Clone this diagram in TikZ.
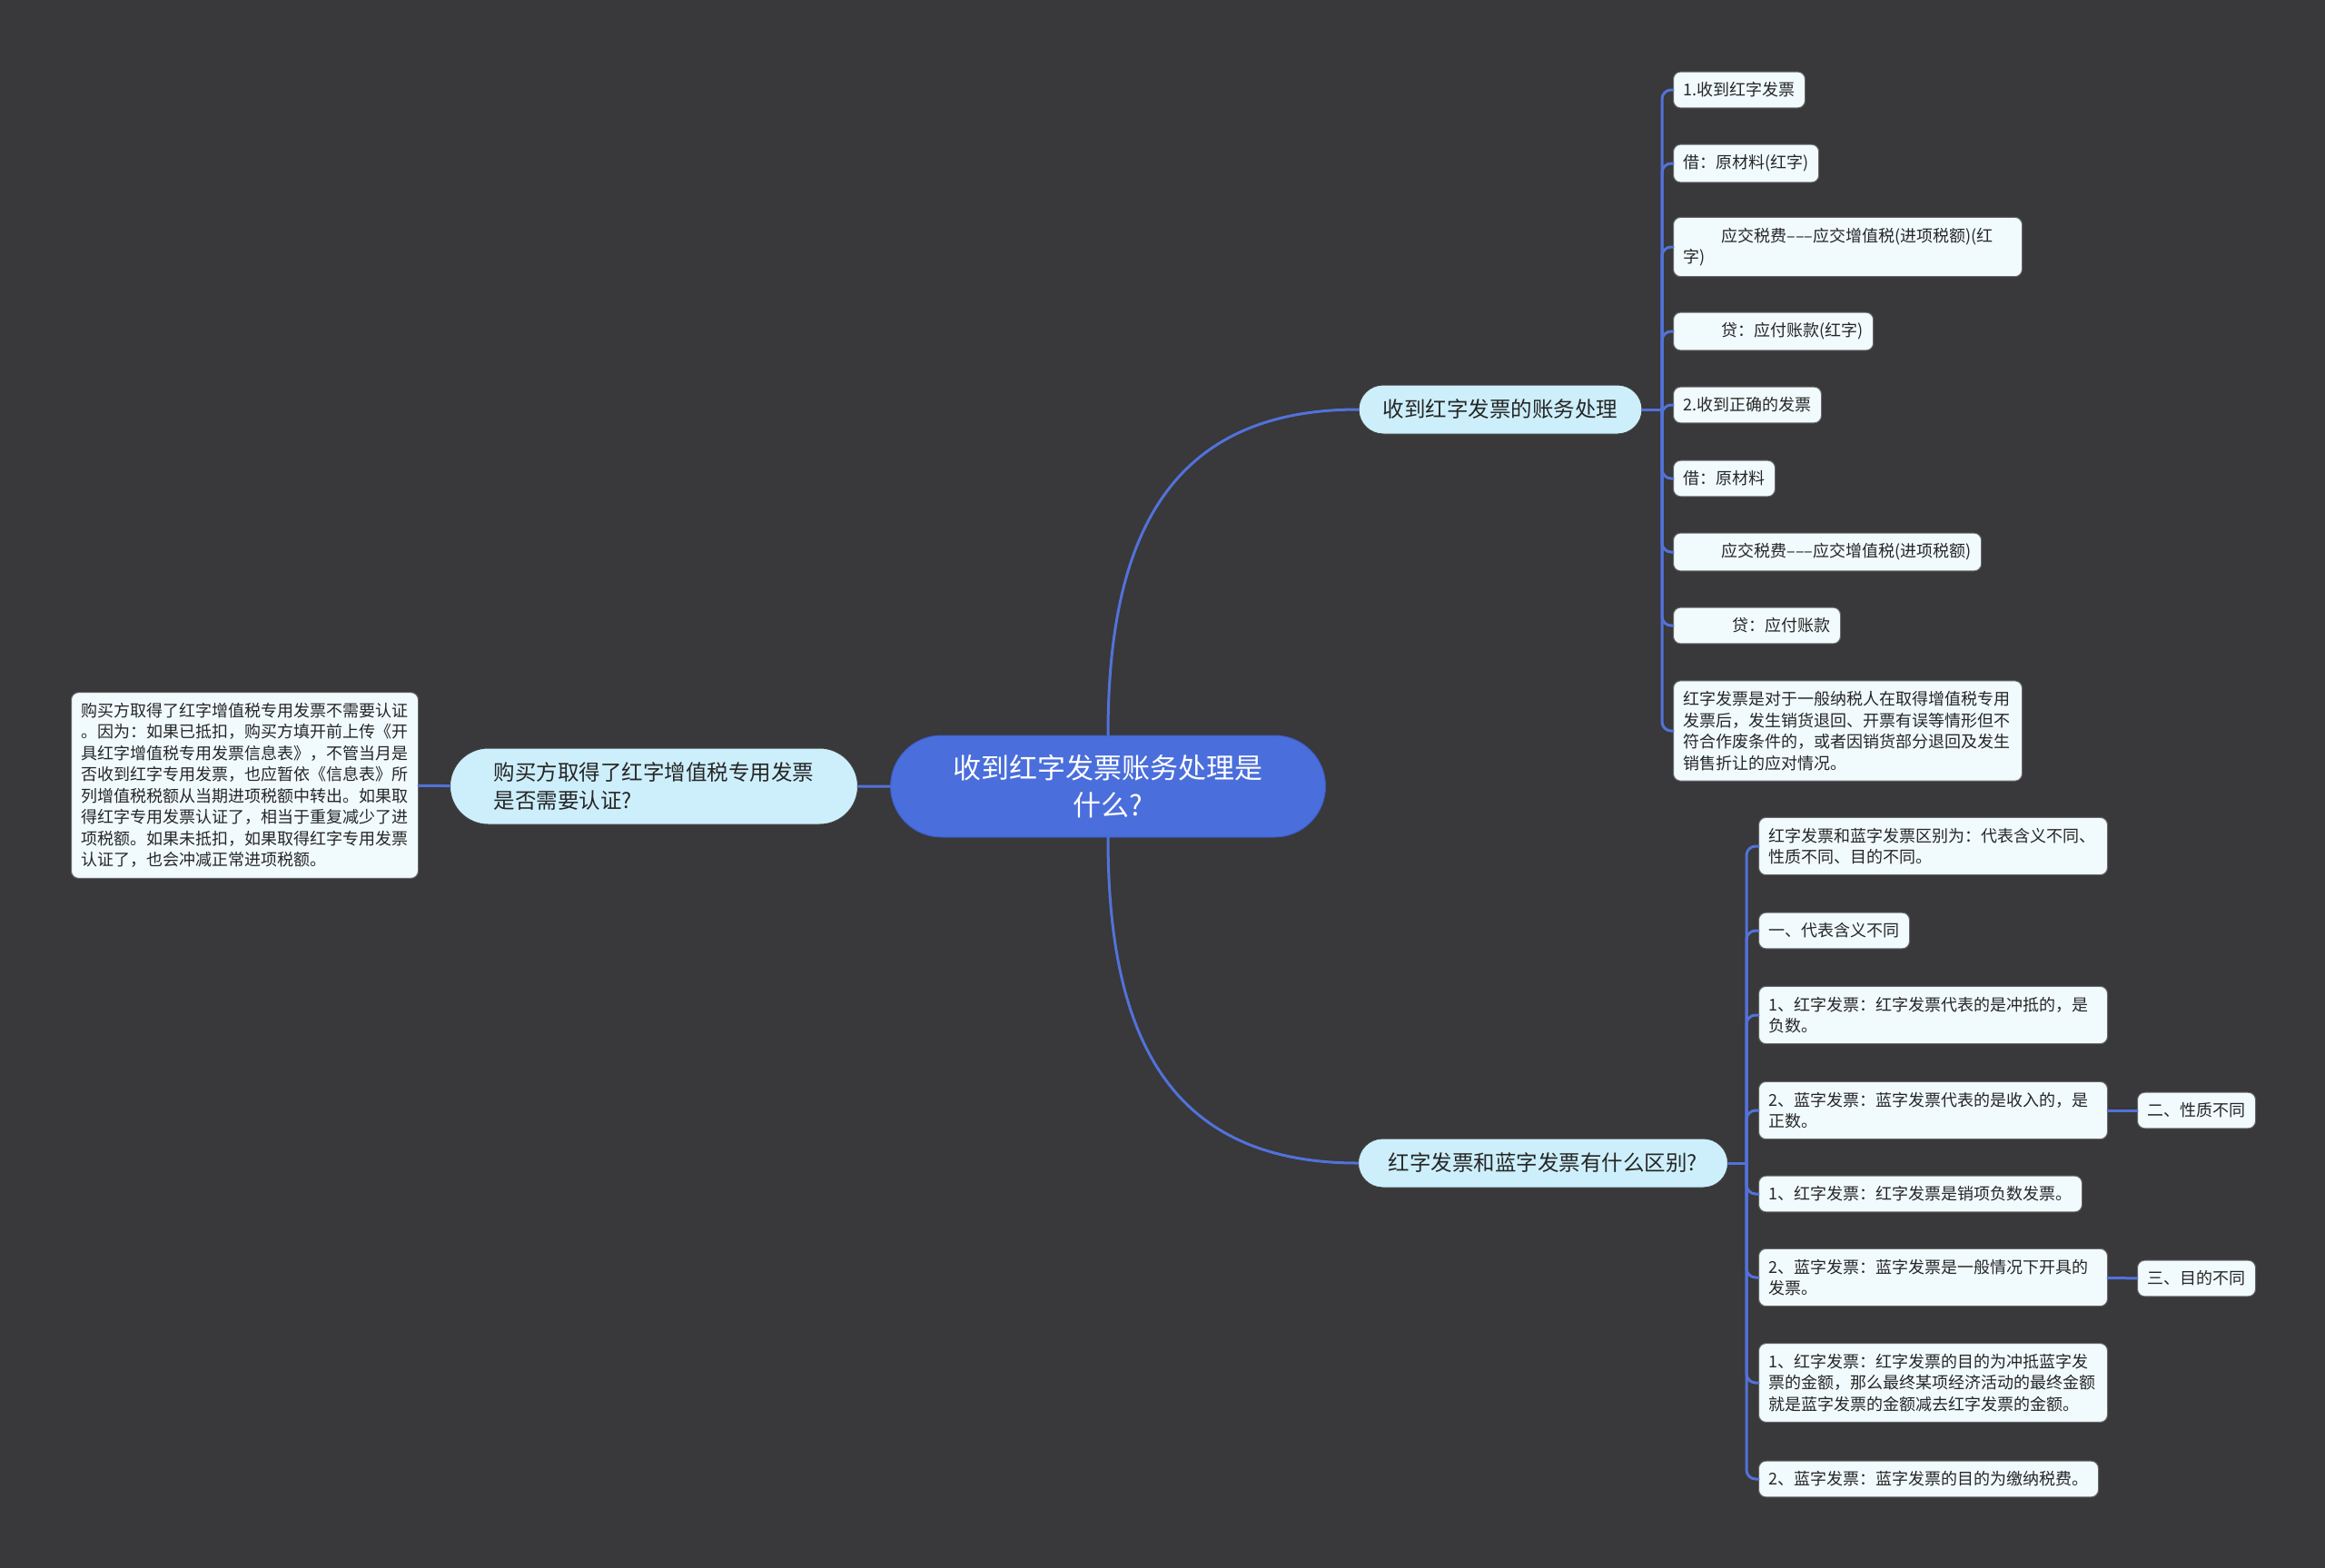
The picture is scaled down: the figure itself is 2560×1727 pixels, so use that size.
\documentclass[tikz,border=0pt]{standalone}
\usepackage{fontspec}
\setmainfont{Noto Sans CJK SC}
\usetikzlibrary{shapes.misc}
\definecolor{bgdark}{HTML}{39383A}
\definecolor{rootblue}{HTML}{4A6EDB}
\definecolor{rootedge}{HTML}{3B5BC0}
\definecolor{topicblue}{HTML}{CDEFFC}
\definecolor{leafwhite}{HTML}{F1FBFE}
\definecolor{linkblue}{HTML}{5272DA}
\begin{document}
\begin{tikzpicture}[x=1pt, y=-1pt, line join=round, line cap=round,
	root/.style={rounded rectangle, fill=rootblue, draw=rootedge, line width=1pt, text=white, font=\fontsize{31}{41}\selectfont, align=center, minimum width=479pt, minimum height=112pt, inner sep=0pt},
	topic/.style={rounded rectangle, fill=topicblue, draw=black!75, line width=1pt, text=black!85, font=\fontsize{23.5}{31}\selectfont, minimum height=54pt, inner sep=0pt},
	leaf/.style={rounded corners=8pt, fill=leafwhite, draw=black!60, line width=1pt, text=black!85, font=\fontsize{18}{23.5}\selectfont, align=left, inner xsep=11pt, inner ysep=11.5pt, anchor=west},
	wideleaf/.style={leaf, text width=362pt},
	link/.style={draw=linkblue, line width=3pt}]
		\fill[bgdark] (0,0) rectangle (2560,1727);
		\useasboundingbox (0,0) rectangle (2560,1727);
		\node[root] (root) at (1220,866) {收到红字发票账务处理是\\什么?};
		\node[topic, minimum width=449pt, minimum height=84pt, align=left] (ask) at (720,866) {购买方取得了红字增值税专用发票\\是否需要认证?};
		\node[leaf] (askleaf) at (78,865) {购买方取得了红字增值税专用发票不需要认证\\。因为：如果已抵扣，购买方填开前上传《开\\具红字增值税专用发票信息表》，不管当月是\\否收到红字专用发票，也应暂依《信息表》所\\列增值税税额从当期进项税额中转出。如果取\\得红字专用发票认证了，相当于重复减少了进\\项税额。如果未抵扣，如果取得红字专用发票\\认证了，也会冲减正常进项税额。};
		\draw[link] (root) -- (ask);
		\draw[link] (ask) -- (askleaf);
		\node[topic, minimum width=312pt] (ub) at (1652,451) {收到红字发票的账务处理};
		\node[topic, minimum width=407pt] (lb) at (1699,1281) {红字发票和蓝字发票有什么区别?};
		\draw[link] (root.north) to[out=90, in=180, looseness=1.2] (ub.west);
		\draw[link] (root.south) to[out=-90, in=180, looseness=1.2] (lb.west);
		\coordinate (ubj) at (1830,451);
		\coordinate (lbj) at (1923,1281);
		\draw[link] (ub.east) -- (ubj);
		\draw[link] (lb.east) -- (lbj);
		\foreach \y/\kind/\txt [count=\i] in {99/leaf/{1.收到红字发票}, 180/leaf/{借：原材料(红字)},
			272/wideleaf/{\hspace*{42pt}应交税费–––应交增值税(进项税额)(红\\字)}, 365/leaf/{\hspace*{42pt}贷：应付账款(红字)},
			446/leaf/{2.收到正确的发票}, 527/leaf/{借：原材料}, 608/leaf/{\hspace*{42pt}应交税费–––应交增值税(进项税额)},
			689/leaf/{\hspace*{54pt}贷：应付账款},
			805/wideleaf/{红字发票是对于一般纳税人在取得增值税专用\\发票后，发生销货退回、开票有误等情形但不\\符合作废条件的，或者因销货部分退回及发生\\销售折让的应对情况。}}
		{
			\node[\kind] (u\i) at (1842,\y) {\txt};
			\draw[link, rounded corners=10pt] (ubj) |- (u\i.west);
		}
		\foreach \y/\kind/\txt [count=\i] in {932/wideleaf/{红字发票和蓝字发票区别为：代表含义不同、\\性质不同、目的不同。}, 1025/leaf/{一、代表含义不同},
			1118/wideleaf/{1、红字发票：红字发票代表的是冲抵的，是\\负数。}, 1223/wideleaf/{2、蓝字发票：蓝字发票代表的是收入的，是\\正数。},
			1315/leaf/{1、红字发票：红字发票是销项负数发票。}, 1407/wideleaf/{2、蓝字发票：蓝字发票是一般情况下开具的\\发票。},
			1523/wideleaf/{1、红字发票：红字发票的目的为冲抵蓝字发\\票的金额，那么最终某项经济活动的最终金额\\就是蓝字发票的金额减去红字发票的金额。},
			1629/leaf/{2、蓝字发票：蓝字发票的目的为缴纳税费。}}
		{
			\node[\kind] (l\i) at (1936,\y) {\txt};
			\draw[link, rounded corners=10pt] (lbj) |- (l\i.west);
		}
		\node[leaf] (nature) at (2353,1223) {二、性质不同};
		\node[leaf] (purpose) at (2353,1408) {三、目的不同};
		\draw[link] (l4) -- (nature);
		\draw[link] (l6) -- (purpose);
	\end{tikzpicture}
\end{document}
